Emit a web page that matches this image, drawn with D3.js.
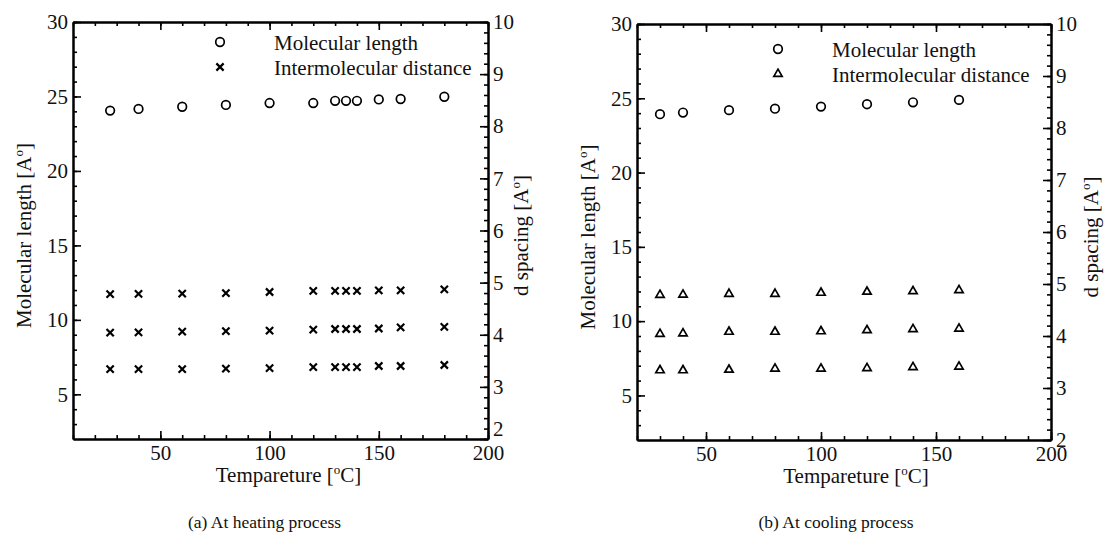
<!DOCTYPE html>
<html lang="en">
<head>
  <meta charset="UTF-8">
  <title>Molecular length and d spacing vs temperature</title>
  <script src="https://d3js.org/d3.v7.min.js"></script>
  <style>
    body {
      margin: 0;
      background: #fff;
    }

    svg text {
      font-family: "Liberation Serif", "Times New Roman", serif;
      fill: #111;
    }

    .axis path,
    .axis line {
      stroke: #000;
    }

    .axis path {
      stroke-width: 2px;
    }

    .axis line {
      stroke-width: 1.6px;
    }

    .axis text {
      font-size: 21px;
    }
  </style>
</head>
<body>
  <div id="chart"></div>

  <script>
    // Heating process (panel a)
    const heatTemp = [27, 40, 60, 80, 100, 120, 130, 135, 140, 150, 160, 180];
    const heatLength = [24.05, 24.16, 24.31, 24.43, 24.56, 24.56, 24.71, 24.71, 24.71, 24.80, 24.83, 24.98];
    const heatSpacing1 = [4.78, 4.785, 4.79, 4.80, 4.82, 4.84, 4.84, 4.84, 4.84, 4.85, 4.85, 4.87];
    const heatSpacing2 = [4.04, 4.045, 4.06, 4.07, 4.08, 4.10, 4.11, 4.11, 4.11, 4.12, 4.14, 4.15];
    const heatSpacing3 = [3.34, 3.34, 3.34, 3.35, 3.36, 3.38, 3.38, 3.38, 3.38, 3.40, 3.40, 3.42];

    // Cooling process (panel b)
    const coolTemp = [30, 40, 60, 80, 100, 120, 140, 160];
    const coolLength = [23.93, 24.04, 24.20, 24.30, 24.44, 24.60, 24.73, 24.89];
    const coolSpacing1 = [4.79, 4.795, 4.81, 4.81, 4.83, 4.85, 4.86, 4.88];
    const coolSpacing2 = [4.04, 4.05, 4.08, 4.08, 4.09, 4.11, 4.13, 4.14];
    const coolSpacing3 = [3.34, 3.34, 3.35, 3.37, 3.37, 3.38, 3.40, 3.41];

    // tick labels
    const xTicks = [50, 100, 150, 200];
    const yLeftTicks = [5, 10, 15, 20, 25, 30];
    const yRightTicks = [2, 3, 4, 5, 6, 7, 8, 9, 10];
    const legendLabels = ['Molecular length', 'Intermolecular distance'];

    const width = 1109;
    const height = 533;
    const serif = '"Liberation Serif", "Times New Roman", serif';

    const svg = d3.select('#chart')
                  .append('svg')
                  .attr('width', width)
                  .attr('height', height);

    const circleSym = d3.symbol().type(d3.symbolCircle).size(58);
    const crossSym = d3.symbol().type(d3.symbolTimes).size(36);
    const triSym = d3.symbol().type(d3.symbolTriangle2).size(50);

    // add an axis group, with d3's default sans font swapped for the serif one
    function axisGroup(tx, ty, axis) {
      return svg.append('g').attr('class', 'axis')
                .attr('transform', `translate(${tx},${ty})`)
                .call(axis)
                .attr('font-family', serif)
                .attr('font-size', 21);
    }

    function drawPanel(p) {
      const x = d3.scaleLinear().domain(p.xDomain).range([p.left, p.right]);
      const yL = d3.scaleLinear().domain([2, 30]).range([p.bottom, p.top]);
      const yR = d3.scaleLinear().domain([2, 10]).range([p.bottom, p.top]);

      const minorX = d3.range(Math.ceil(p.xDomain[0] / 10) * 10, 201, 10);

      // minor ticks first, then major with labels
      axisGroup(0, p.bottom, d3.axisBottom(x).tickValues(minorX).tickSize(-4).tickSizeOuter(0).tickFormat(''));
      axisGroup(0, p.bottom, d3.axisBottom(x).tickValues(xTicks).tickSize(-8).tickSizeOuter(0).tickPadding(6));

      axisGroup(0, p.top, d3.axisTop(x).tickValues(minorX).tickSize(-4).tickSizeOuter(0).tickFormat(''));
      axisGroup(0, p.top, d3.axisTop(x).tickValues(xTicks).tickSize(-8).tickSizeOuter(0).tickFormat(''));

      axisGroup(p.left, 0, d3.axisLeft(yL).tickValues(d3.range(3, 31, 1)).tickSize(-4).tickSizeOuter(0).tickFormat(''));
      axisGroup(p.left, 0, d3.axisLeft(yL).tickValues(yLeftTicks).tickSize(-8).tickSizeOuter(0).tickPadding(5));

      axisGroup(p.right, 0, d3.axisRight(yR).tickValues(d3.range(2, 10.01, 0.2)).tickSize(-4).tickSizeOuter(0).tickFormat(''));
      const rAxis = axisGroup(p.right, 0, d3.axisRight(yR).tickValues(yRightTicks).tickSize(-8).tickSizeOuter(0).tickPadding(5));
      rAxis.selectAll('.tick text').filter(d => d === 2).attr('dy', p.twoDy);

      // axis titles
      const cx = (p.left + p.right) / 2;
      const cy = (p.top + p.bottom) / 2 + 5;

      const xt = svg.append('text')
         .attr('x', cx + p.xTitleShift).attr('y', p.bottom + 43)
         .attr('text-anchor', 'middle').attr('font-size', 21)
         .text('Tempareture [');
      xt.append('tspan').attr('font-size', 13).attr('dy', -8).text('o');
      xt.append('tspan').attr('dy', 8).text('C]');

      const yt = svg.append('text')
         .attr('transform', `translate(${p.left - 42},${cy}) rotate(-90)`)
         .attr('text-anchor', 'middle').attr('font-size', 21)
         .text('Molecular length [A');
      yt.append('tspan').attr('font-size', 13).attr('dy', -8).text('o');
      yt.append('tspan').attr('dy', 8).text(']');

      const rt = svg.append('text')
         .attr('transform', `translate(${p.right + p.rTitleOff},${cy}) rotate(-90)`)
         .attr('text-anchor', 'middle').attr('font-size', 21)
         .text('d spacing [A');
      rt.append('tspan').attr('font-size', 13).attr('dy', -8).text('o');
      rt.append('tspan').attr('dy', 8).text(']');

      // caption
      svg.append('text')
         .attr('x', cx + p.capShift).attr('y', 528)
         .attr('text-anchor', 'middle').attr('font-size', 17.5)
         .text(p.caption);

      // data marks
      const mark = (sel, sym) => sel.attr('d', sym).attr('fill', 'none')
                                    .attr('stroke', '#000').attr('stroke-width', 1.7);

      mark(svg.append('g').selectAll('path')
         .data(p.temp.map((t, i) => [t, p.length[i]]))
         .enter().append('path')
         .attr('transform', d => `translate(${x(d[0])},${yL(d[1])})`), circleSym);

      [p.s1, p.s2, p.s3].forEach(series => {
        const pts = svg.append('g').selectAll('path')
           .data(p.temp.map((t, i) => [t, series[i]]))
           .enter().append('path')
           .attr('transform', d => `translate(${x(d[0])},${yR(d[1])})`);
        mark(pts, p.sym).attr('stroke-width', p.symWidth);
      });

      // legend
      const syms = [circleSym, p.sym];
      legendLabels.forEach((lab, i) => {
        const ly = p.legendY + i * 25;
        mark(svg.append('path').attr('transform', `translate(${p.legendX},${ly})`), syms[i])
           .attr('stroke-width', i ? p.symWidth : 1.7);
        svg.append('text')
           .attr('x', p.legendX + 54).attr('y', ly + 8)
           .attr('font-size', 21)
           .text(lab);
      });
    }

    drawPanel({
      left: 73, right: 488, top: 22, bottom: 439,
      xDomain: [10, 200],
      temp: heatTemp, length: heatLength,
      s1: heatSpacing1, s2: heatSpacing2, s3: heatSpacing3,
      sym: crossSym, symWidth: 2.2,
      legendX: 220, legendY: 42,
      xTitleShift: 8, capShift: -16, twoDy: '-0.15em', rTitleOff: 40,
      caption: '(a) At heating process'
    });

    drawPanel({
      left: 637, right: 1051, top: 24, bottom: 440,
      xDomain: [20, 200],
      temp: coolTemp, length: coolLength,
      s1: coolSpacing1, s2: coolSpacing2, s3: coolSpacing3,
      sym: triSym, symWidth: 1.7,
      legendX: 778, legendY: 49,
      xTitleShift: 12, capShift: -8, twoDy: '0.32em', rTitleOff: 47,
      caption: '(b) At cooling process'
    });
  </script>
</body>
</html>
